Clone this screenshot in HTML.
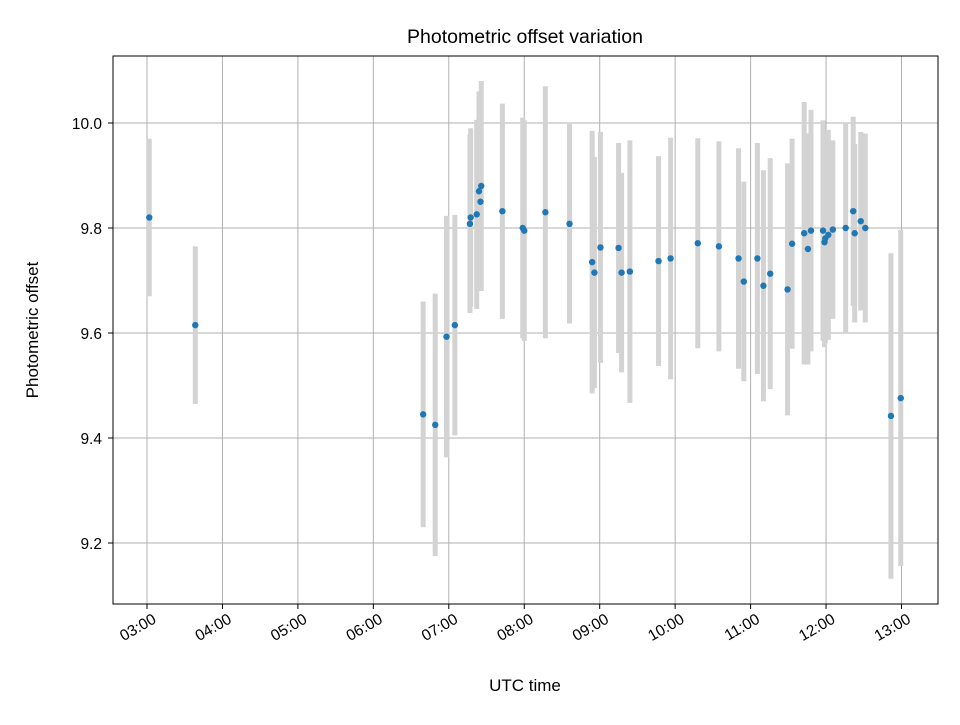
<!DOCTYPE html>
<html><head><meta charset="utf-8"><style>
body{margin:0;background:#fff;font-family:"Liberation Sans",sans-serif}
svg text{font-family:"Liberation Sans",sans-serif;fill:#000}
</style></head><body>
<svg id="chart" width="960" height="720" xmlns="http://www.w3.org/2000/svg">
<rect width="960" height="720" fill="#fff"/>
<text x="525" y="43" font-size="19.5" text-anchor="middle">Photometric offset variation</text>
<g id="grid"></g>
<g id="bars"></g>
<g id="pts"></g>
<rect x="113" y="56" width="825" height="548" fill="none" stroke="#000" stroke-width="1"/>
<g id="ticks"></g>
<text x="525" y="691" font-size="17" text-anchor="middle">UTC time</text>
<text transform="translate(38,330) rotate(-90)" font-size="17" text-anchor="middle">Photometric offset</text>
</svg>
<script>
const hours=[3.03,3.64,6.66,6.82,6.97,7.08,7.28,7.29,7.37,7.40,7.43,7.42,7.71,7.98,8.0,8.28,8.60,8.90,8.93,9.01,9.25,9.29,9.40,9.78,9.94,10.30,10.58,10.84,10.91,11.09,11.17,11.26,11.49,11.55,11.71,11.76,11.80,11.96,11.98,11.99,12.03,12.09,12.26,12.36,12.38,12.46,12.52,12.86,12.99];
const offsets=[9.82,9.615,9.445,9.425,9.593,9.615,9.808,9.82,9.826,9.87,9.88,9.85,9.832,9.80,9.795,9.83,9.808,9.735,9.715,9.763,9.762,9.715,9.717,9.737,9.742,9.771,9.765,9.742,9.698,9.742,9.69,9.713,9.683,9.77,9.79,9.76,9.795,9.795,9.773,9.78,9.787,9.797,9.80,9.832,9.79,9.813,9.80,9.442,9.476];
const errors=[0.15,0.15,0.215,0.25,0.23,0.21,0.17,0.17,0.18,0.19,0.2,0.17,0.205,0.21,0.21,0.24,0.19,0.25,0.22,0.22,0.2,0.19,0.25,0.2,0.23,0.2,0.2,0.21,0.19,0.22,0.22,0.22,0.24,0.2,0.25,0.22,0.23,0.21,0.2,0.2,0.2,0.17,0.2,0.18,0.17,0.17,0.18,0.31,0.32];
const xTickHours=[3,4,5,6,7,8,9,10,11,12,13];
const xTickLabels=["03:00","04:00","05:00","06:00","07:00","08:00","09:00","10:00","11:00","12:00","13:00"];
const yTicks=[9.2,9.4,9.6,9.8,10.0];
const yTickLabels=["9.2","9.4","9.6","9.8","10.0"];
const NS="http://www.w3.org/2000/svg";
function xs(h){return 147+(h-3)*75.45;}
function ys(v){return 123+(10-v)*525;}
function mk(tag,attrs,parent){const e=document.createElementNS(NS,tag);for(const k in attrs)e.setAttribute(k,attrs[k]);parent.appendChild(e);return e;}
const grid=document.getElementById('grid'),ticks=document.getElementById('ticks'),bars=document.getElementById('bars'),pts=document.getElementById('pts');
xTickHours.forEach((h,i)=>{const x=xs(h);
 const g=mk('line',{x1:x,x2:x,y1:56,y2:604,stroke:'#b0b0b0','stroke-width':1},grid);
 
 
 const t=mk('line',{x1:x,x2:x,y1:604,y2:609,stroke:'#000'},ticks);
 
 
 const ax=x+5, ay=613;
 const l=mk('text',{x:ax,y:ay,'font-size':15.5,'text-anchor':'end','dominant-baseline':'hanging',transform:`rotate(-30 ${ax} ${ay})`},ticks);
 l.textContent=xTickLabels[i];
 
 
});
yTicks.forEach((v,i)=>{const y=ys(v);
 const g=mk('line',{x1:113,x2:938,y1:y,y2:y,stroke:'#b0b0b0','stroke-width':1},grid);
 
 
 const t=mk('line',{x1:108,x2:113,y1:y,y2:y,stroke:'#000'},ticks);
 
 
 const l=mk('text',{x:102,y:y+6,'font-size':15.5,'text-anchor':'end'},ticks);
 l.textContent=yTickLabels[i];
 
 
});
hours.forEach((h,i)=>{const x=xs(h);
 const b=mk('line',{x1:x,x2:x,y1:ys(offsets[i]+errors[i]),y2:ys(offsets[i]-errors[i]),stroke:'#d3d3d3','stroke-width':5},bars);
 
 
});
hours.forEach((h,i)=>{
 const c=mk('circle',{cx:xs(h),cy:ys(offsets[i]),r:3.2,fill:'#1f77b4'},pts);
 
 
});
</script>
</body></html>
